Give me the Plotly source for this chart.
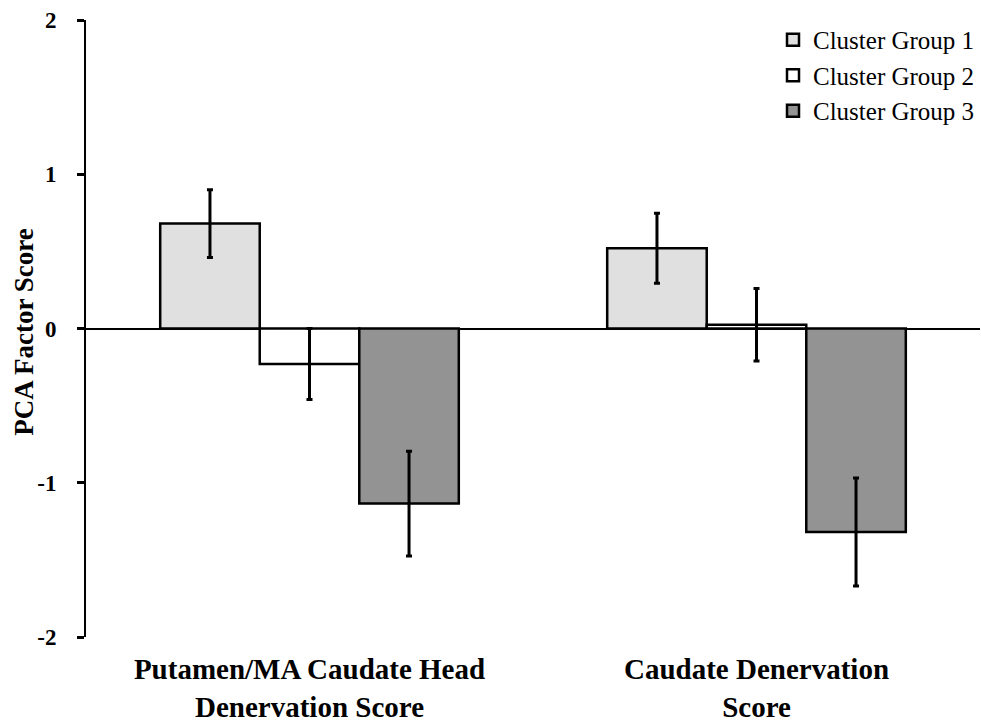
import plotly.graph_objects as go

categories = ["Putamen/MA Caudate Head<br>Denervation Score", "Caudate Denervation<br>Score"]
series_names = ["Cluster Group 1", "Cluster Group 2", "Cluster Group 3"]
group1_values = [0.68, 0.52]
group2_values = [-0.23, 0.025]
group3_values = [-1.135, -1.32]
group1_err = [0.22, 0.227]
group2_err = [0.23, 0.235]
group3_err = [0.34, 0.35]
colors = ["#e0e0e0", "#ffffff", "#939393"]
y_ticks = [-2, -1, 0, 1, 2]
y_title = "PCA Factor Score"

FONT = "Liberation Serif, Times New Roman, serif"

fig = go.Figure()
for name, vals, errs, col in zip(series_names,
                                 [group1_values, group2_values, group3_values],
                                 [group1_err, group2_err, group3_err],
                                 colors):
    fig.add_trace(go.Bar(
        x=categories, y=vals, name=name,
        marker=dict(color=col, line=dict(color="black", width=2.5)),
        error_y=dict(type="data", array=errs, color="black", thickness=3, width=3),
    ))

fig.update_layout(
    barmode="group",
    bargap=0.332,
    bargroupgap=0,
    width=981, height=724,
    margin=dict(l=86, r=1, t=20, b=87),
    plot_bgcolor="white", paper_bgcolor="white",
    font=dict(family=FONT, color="black"),
    legend=dict(
        x=1.0, y=1.005, xanchor="right", yanchor="top",
        font=dict(family=FONT, size=25, color="black"),
        bgcolor="rgba(0,0,0,0)", tracegroupgap=0, itemwidth=30,
    ),
    showlegend=True,
)
fig.update_xaxes(
    showline=False, ticks="", showgrid=False, automargin=False,
    ticklabelstandoff=12,
    tickfont=dict(family=FONT, size=29, weight="bold", color="black"),
)
fig.update_yaxes(
    range=[-2, 2], tickvals=y_ticks, ticktext=[str(v) for v in y_ticks],
    showline=True, linecolor="black", linewidth=2,
    ticks="outside", ticklen=7, tickwidth=2.5, tickcolor="black",
    showgrid=False, automargin=False,
    zeroline=True, zerolinecolor="black", zerolinewidth=2,
    ticklabelstandoff=16,
    tickfont=dict(family=FONT, size=23, weight="bold", color="black"),
)
fig.add_annotation(
    text=y_title, textangle=-90, xref="paper", yref="paper",
    x=(24 - 86) / 894, y=0.493, xanchor="center", yanchor="middle",
    showarrow=False, font=dict(family=FONT, size=27, weight="bold", color="black"),
)

fig.write_html("out.html", config={"displayModeBar": False},
               post_script="document.body.style.margin='0px';")
